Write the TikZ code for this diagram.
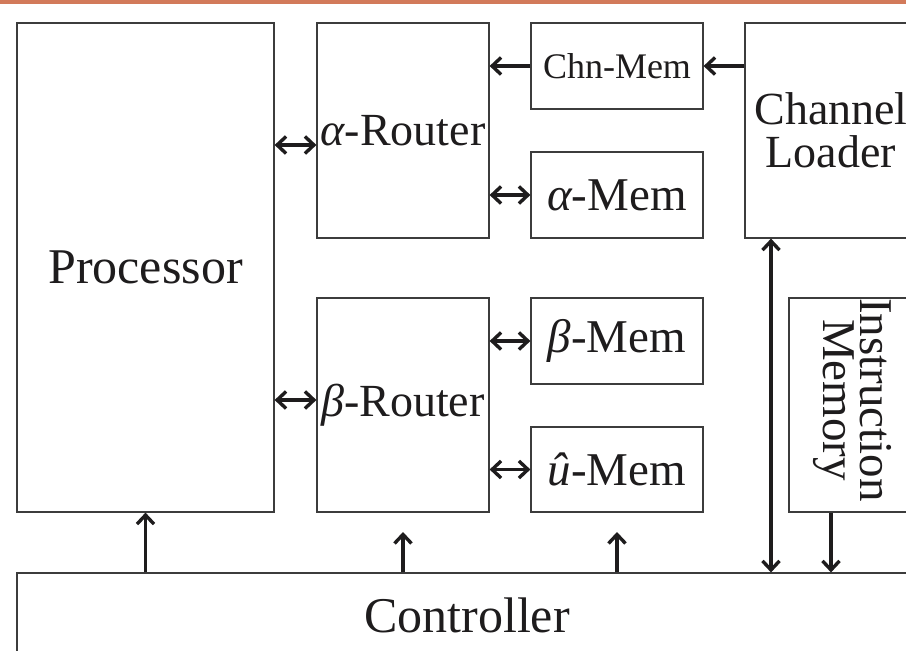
\documentclass[tikz,border=0pt]{standalone}
\usepackage{fontspec}
\setmainfont{Liberation Serif}
\usetikzlibrary{arrows.meta}
\definecolor{bar}{RGB}{210,122,90}
\definecolor{ink}{RGB}{30,28,29}
\definecolor{edge}{RGB}{60,60,60}
\newcommand{\gk}[1]{{\itshape #1}}
\begin{document}
\begin{tikzpicture}[x=1pt,y=-1pt,
  box/.style={draw=edge,line width=1.2pt,inner sep=0pt,text=ink,align=center,
    font=\fontsize{47}{43}\selectfont},
  big/.style={box,font=\fontsize{50}{43}\selectfont},
  router/.style={box,font=\fontsize{46}{43}\selectfont},
  small/.style={box,font=\fontsize{36}{40}\selectfont},
  conn/.style={draw=ink,line width=3.4pt,-{Straight Barb[length=9pt,width=17pt]}},
  dconn/.style={draw=ink,line width=3.4pt,{Straight Barb[length=9pt,width=17pt]}-{Straight Barb[length=9pt,width=17pt]}}]
\useasboundingbox (0,0) rectangle (906,651);
\clip (0,0) rectangle (906,651);
\fill[bar] (0,0) rectangle (906,3.5);
% boxes
\node[big,minimum width=257,minimum height=489] (proc) at (145.5,267.5) {Processor};
\node[router,minimum width=172,minimum height=215] (arouter) at (403,130.5) {\gk{α}-Router};
\node[small,minimum width=172,minimum height=86] (chnmem) at (617,66) {Chn-Mem};
\node[box,minimum width=172,minimum height=86] (amem) at (617,195) {\gk{α}-Mem};
\node[box,minimum width=172,minimum height=215,font=\fontsize{46}{43}\selectfont] (loader) at (831,130.5) {Channel\\Loader};
\node[router,minimum width=172,minimum height=214] (brouter) at (403,405) {\gk{β}-Router};
\node[box,minimum width=172,minimum height=86] (bmem) at (617,341) {\gk{β}-Mem};
\node[box,minimum width=172,minimum height=85] (umem) at (617,469.5) {\gk{û}-Mem};
\node[box,minimum width=128,minimum height=214] (instr) at (853,405) {};
\node[text=ink,align=center,rotate=-90,inner sep=0pt,font=\fontsize{47}{37}\selectfont] (instrtxt) at (852,400) {Instruction\\Memory};
\node[big,minimum width=900,minimum height=84] (ctrl) at (467,615) {Controller};
% helper coordinates
\coordinate (ya) at (0,145);
\coordinate (yb) at (0,400);
\coordinate (c1) at (403,532);
\coordinate (c2) at (617,532);
\coordinate (xl) at (771,0);
\coordinate (xi) at (831,0);
% connectors
\draw[dconn] (proc.east |- ya) -- (arouter.west |- ya);
\draw[dconn] (proc.east |- yb) -- (brouter.west |- yb);
\draw[conn] (chnmem.west) -- (arouter.east |- chnmem.west);
\draw[conn] (loader.west |- chnmem.east) -- (chnmem.east);
\draw[dconn] (arouter.east |- amem.west) -- (amem.west);
\draw[dconn] (brouter.east |- bmem.west) -- (bmem.west);
\draw[dconn] (brouter.east |- umem.west) -- (umem.west);
\draw[conn] (ctrl.north -| proc.south) -- (proc.south);
\draw[conn] (ctrl.north -| c1) -- (c1);
\draw[conn] (ctrl.north -| c2) -- (c2);
\draw[dconn] (loader.south -| xl) -- (ctrl.north -| xl);
\draw[conn] (instr.south -| xi) -- (ctrl.north -| xi);
\end{tikzpicture}
\end{document}
